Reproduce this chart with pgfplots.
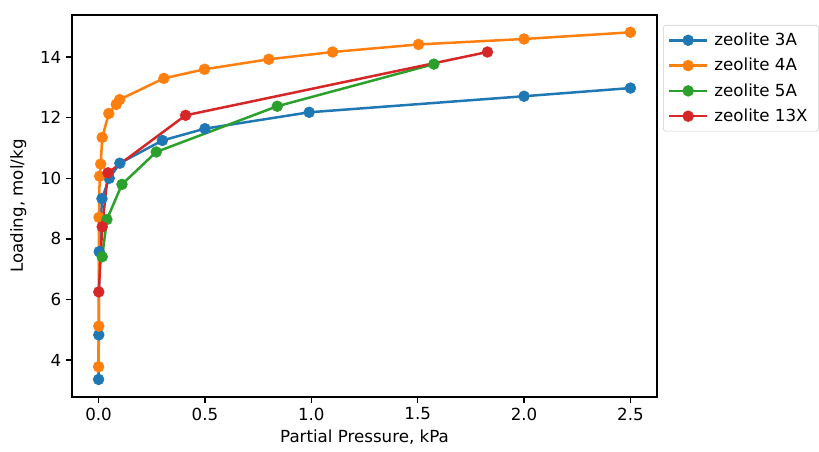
\documentclass[border=0pt]{standalone}
\usepackage{fontspec}
\setmainfont{DejaVu Sans}
\usepackage{pgfplots}
\pgfplotsset{compat=1.18}
\definecolor{c1}{HTML}{1F77B4}
\definecolor{c2}{HTML}{FF7F0E}
\definecolor{c3}{HTML}{2CA02C}
\definecolor{c4}{HTML}{D62728}
\begin{document}
\begin{tikzpicture}
\useasboundingbox (-51.84pt,-38.88pt) rectangle (537.84pt,285.84pt);
\begin{axis}[
  at={(0pt,0pt)}, anchor=south west,
  width=421.2pt, height=275pt, scale only axis,
  xmin=-0.125, xmax=2.625, ymin=2.78, ymax=15.39,
  xtick={0,0.5,1,1.5,2,2.5},
  ytick={4,6,8,10,12,14},
  xticklabel style={/pgf/number format/.cd, fixed, fixed zerofill, precision=1},
  /pgf/number format/assume math mode=true,
  axis line style={black, line width=0.96pt},
  tick align=outside, tick style={black, line width=0.96pt},
  major tick length=4.2pt,
  xtick pos=left, ytick pos=left,
  tick label style={font=\fontsize{12}{14}\selectfont},
  label style={font=\fontsize{12}{14}\selectfont},
  xlabel={Partial Pressure, kPa},
  ylabel={Loading, mol/kg},
  ylabel style={xshift=0pt, yshift=3pt},
  every axis plot/.append style={line width=1.8pt, mark=*, mark size=3.9pt},
  legend cell align=left,
  legend style={at={(1.0103,0.974)}, anchor=north west, draw=black!20, rounded corners=2pt,
    font=\fontsize{12}{14}\selectfont, row sep=3.6pt, inner sep=3.5pt,
    nodes={inner xsep=4.5pt}},
  legend image code/.code={\draw[mark repeat=2,mark phase=2] plot coordinates {(0pt,0pt) (13.5pt,0pt) (27pt,0pt)};},
]
\addplot[c1, mark options={solid, fill=c1, draw=c1, line width=0.4pt}] coordinates {
(0,3.36) (0.001,4.83) (0.003,7.58) (0.016,9.33) (0.05,10.0) (0.1,10.5) (0.3,11.25) (0.5,11.64) (0.99,12.18) (2.0,12.71) (2.5,12.98)};
\addlegendentry{zeolite 3A}
\addplot[c2, mark options={solid, fill=c2, draw=c2, line width=0.4pt}] coordinates {
(0,3.78) (0.001,5.12) (0.002,8.71) (0.005,10.07) (0.01,10.47) (0.017,11.35) (0.048,12.14) (0.083,12.44) (0.099,12.6) (0.307,13.3) (0.498,13.6) (0.8,13.93) (1.1,14.17) (1.504,14.42) (2.0,14.6) (2.5,14.82)};
\addlegendentry{zeolite 4A}
\addplot[c3, mark options={solid, fill=c3, draw=c3, line width=0.4pt}] coordinates {
(0.017,7.41) (0.039,8.64) (0.11,9.8) (0.271,10.87) (0.84,12.38) (1.576,13.77)};
\addlegendentry{zeolite 5A}
\addplot[c4, mark options={solid, fill=c4, draw=c4, line width=0.4pt}] coordinates {
(0.001,6.25) (0.017,8.4) (0.044,10.18) (0.409,12.08) (1.828,14.17)};
\addlegendentry{zeolite 13X}
\end{axis}
\end{tikzpicture}
\end{document}
